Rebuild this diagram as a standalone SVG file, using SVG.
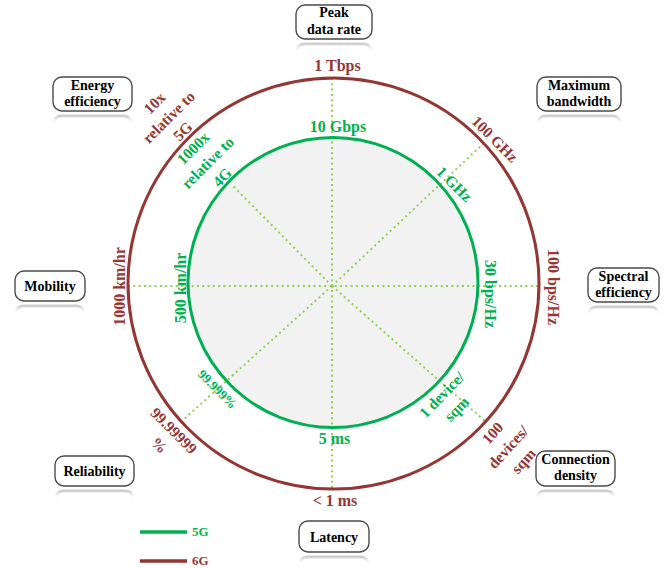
<svg xmlns="http://www.w3.org/2000/svg" width="672" height="568" viewBox="0 0 672 568">
<defs>
<linearGradient id="refl" x1="0" y1="0" x2="0" y2="1">
<stop offset="0" stop-color="#c8c8c8" stop-opacity="0.9"/>
<stop offset="1" stop-color="#ffffff" stop-opacity="0"/>
</linearGradient>
</defs>
<style>
text{font-family:"Liberation Serif","Times New Roman",serif;font-weight:bold;}
.box{fill:#fff;stroke:#4a4a4a;stroke-width:1.4;}
.refl{fill:none;stroke:url(#refl);stroke-width:3;}
.bt{font-size:14px;fill:#000;text-anchor:middle;}
.g{fill:#00b050;}
.b{fill:#953735;}
.lab{font-size:16px;text-anchor:middle;}
.dl{font-size:15.5px;text-anchor:middle;}
.axis{stroke:#92d050;stroke-width:2;stroke-dasharray:2 3.3;fill:none;}
.c5{fill:none;stroke:#00b050;stroke-width:3;}
.c6{fill:none;stroke:#943634;stroke-width:3;}
</style>
<rect width="672" height="568" fill="#fff"/>
<circle cx="333" cy="282.5" r="145" fill="#f2f2f2"/>
<g id="connectors">
<line class="axis" x1="332" y1="78" x2="332" y2="489"/>
<line class="axis" x1="128" y1="286" x2="539" y2="286"/>
<line class="axis" x1="332" y1="286" x2="484" y2="143"/>
<line class="axis" x1="332" y1="286" x2="486" y2="422"/>
<line class="axis" x1="332" y1="286" x2="183" y2="420"/>
<line class="axis" x1="332" y1="286" x2="232" y2="185"/>
</g>
<g id="ring-6G">
<circle class="c6" cx="333.5" cy="283.5" r="205.5"/>
</g>
<g id="ring-5G">
<circle class="c5" cx="333" cy="282.5" r="145"/>
</g>
<g id="labels-6G">
<text class="lab b" x="337.5" y="71">1 Tbps</text>
<text class="lab b" x="335" y="506">&lt; 1 ms</text>
<text class="lab b" transform="translate(124.5,286.5) rotate(-90)">1000 km/hr</text>
<text class="lab b" transform="translate(547.5,287) rotate(90)">100 bps/Hz</text>
<text class="dl b" transform="translate(495,139) rotate(45)" y="5.4">100 GHz</text>
<text class="dl b" transform="translate(168.5,117) rotate(-45)"><tspan x="0" y="-14.5">10x</tspan><tspan x="0" y="5.5">relative to</tspan><tspan x="0" y="25.5">5G</tspan></text>
<text class="dl b" transform="translate(508,447) rotate(-48)"><tspan x="0" y="-15.5">100</tspan><tspan x="0" y="5.5">devices/</tspan><tspan x="0" y="26">sqm</tspan></text>
<text class="dl b" transform="translate(166.7,437.8) rotate(45)"><tspan x="0" y="-4.75">99.99999</tspan><tspan x="0" y="15.75">%</tspan></text>
</g>
<g id="labels-5G">
<text class="lab g" x="338" y="132">10 Gbps</text>
<text class="lab g" x="334.5" y="444">5 ms</text>
<text class="lab g" transform="translate(186,288) rotate(-90)">500 km/hr</text>
<text class="lab g" transform="translate(485,294) rotate(90)">30 bps/Hz</text>
<text class="dl g" transform="translate(454.5,184) rotate(45)" y="5.4">1 GHz</text>
<text class="g" style="font-size:13px;text-anchor:middle" transform="translate(217.5,389) rotate(45)" y="4.5">99.999%</text>
<text class="dl g" transform="translate(207.5,162.5) rotate(-45)"><tspan x="0" y="-15">1000x</tspan><tspan x="0" y="5.5">relative to</tspan><tspan x="0" y="26">4G</tspan></text>
<text class="dl g" transform="translate(449,401.75) rotate(-46)"><tspan x="0" y="-4.75">1 device/</tspan><tspan x="0" y="15.75">sqm</tspan></text>
</g>
<g id="node-peak">
<path class="refl" d="M297,52 Q297,44 305,44 L363,44 Q371,44 371,52"/>
<rect class="box" x="296" y="5" width="76" height="34" rx="9"/>
<text class="bt" x="334" y="17">Peak</text>
<text class="bt" x="334" y="33.5">data rate</text>
</g>
<g id="node-energy">
<path class="refl" d="M54,124 Q54,116 62,116 L123,116 Q131,116 131,124"/>
<rect class="box" x="53" y="77" width="79" height="34" rx="9"/>
<text class="bt" x="92.5" y="89.5">Energy</text>
<text class="bt" x="92.5" y="105.5">efficiency</text>
</g>
<g id="node-bandwidth">
<path class="refl" d="M538,124 Q538,116 546,116 L612,116 Q620,116 620,124"/>
<rect class="box" x="537" y="77" width="84" height="34" rx="9"/>
<text class="bt" x="579" y="89.5">Maximum</text>
<text class="bt" x="579" y="105.5">bandwidth</text>
</g>
<g id="node-mobility">
<path class="refl" d="M16,314 Q16,306 24,306 L76,306 Q84,306 84,314"/>
<rect class="box" x="15" y="271" width="70" height="30" rx="9"/>
<text class="bt" x="50" y="291">Mobility</text>
</g>
<g id="node-spectral">
<path class="refl" d="M589,315 Q589,307 597,307 L650,307 Q658,307 658,315"/>
<rect class="box" x="588" y="268" width="71" height="34" rx="9"/>
<text class="bt" x="623.5" y="280.5">Spectral</text>
<text class="bt" x="623.5" y="296.5">efficiency</text>
</g>
<g id="node-reliability">
<path class="refl" d="M56,499 Q56,491 64,491 L125,491 Q133,491 133,499"/>
<rect class="box" x="55" y="456" width="79" height="30" rx="9"/>
<text class="bt" x="94.5" y="476">Reliability</text>
</g>
<g id="node-connection">
<path class="refl" d="M537,499 Q537,491 545,491 L606,491 Q614,491 614,499"/>
<rect class="box" x="536" y="451" width="79" height="35" rx="9"/>
<text class="bt" x="575.5" y="463.5">Connection</text>
<text class="bt" x="575.5" y="480">density</text>
</g>
<g id="node-latency">
<path class="refl" d="M300,565 Q300,557 308,557 L360,557 Q368,557 368,565"/>
<rect class="box" x="299" y="521" width="70" height="31" rx="9"/>
<text class="bt" x="334" y="541.5">Latency</text>
</g>
<g id="legend">
<line x1="140" y1="532" x2="187" y2="532" stroke="#00b050" stroke-width="3.5"/>
<text class="g" x="192" y="536" style="font-size:13px">5G</text>
<line x1="140" y1="561" x2="187" y2="561" stroke="#943634" stroke-width="3.5"/>
<text class="b" x="192" y="565" style="font-size:13px">6G</text>
</g>
</svg>
